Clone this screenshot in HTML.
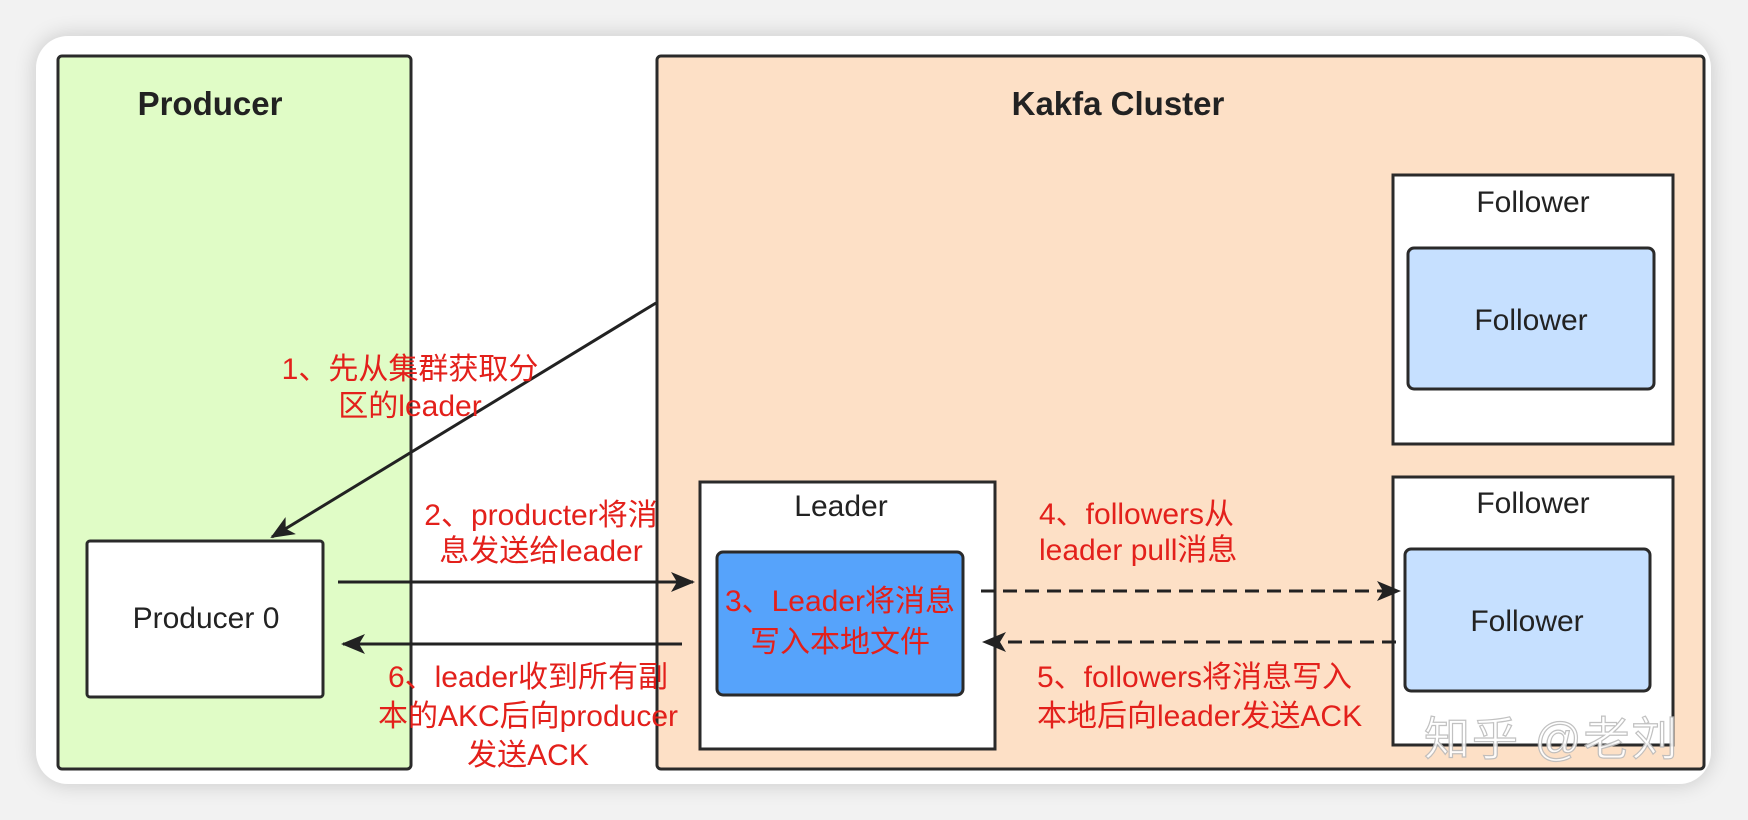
<!DOCTYPE html>
<html><head><meta charset="utf-8"><style>
html,body{margin:0;padding:0;width:1748px;height:820px;overflow:hidden;background:#f2f2f2;}
.card{position:absolute;left:36px;top:36px;width:1675px;height:748px;background:#fff;border-radius:32px;box-shadow:0 0 22px rgba(0,0,0,0.18);}
svg{position:absolute;left:0;top:0;}
text{font-family:"Liberation Sans","Noto Sans CJK SC",sans-serif;}
.r{fill:#e3201b;font-size:30px;}
.b{fill:#222;font-size:30px;}
</style></head><body>
<div class="card"></div>
<svg width="1748" height="820" viewBox="0 0 1748 820">
<defs>
<marker id="ah2" markerWidth="24" markerHeight="20" refX="22" refY="10" orient="auto" markerUnits="userSpaceOnUse">
<path d="M0,0 L24,10 L0,20 L6,10 Z" fill="#222"/></marker>
</defs>
<rect x="58" y="56" width="353" height="713" rx="4" fill="#e0fcc6" stroke="#2a2a2a" stroke-width="3"/>
<text x="210" y="115" text-anchor="middle" font-weight="bold" font-size="33" fill="#222">Producer</text>
<rect x="657" y="56" width="1047" height="713" rx="4" fill="#fde0c6" stroke="#2a2a2a" stroke-width="3"/>
<text x="1118" y="115" text-anchor="middle" font-weight="bold" font-size="33" fill="#222">Kakfa Cluster</text>

<rect x="1393" y="175" width="280" height="269" fill="#fff" stroke="#2a2a2a" stroke-width="3"/>
<text x="1533" y="212" text-anchor="middle" class="b">Follower</text>
<rect x="1408" y="248" width="246" height="141" rx="6" fill="#c6e0ff" stroke="#2a2a2a" stroke-width="3"/>
<text x="1531" y="330" text-anchor="middle" class="b">Follower</text>

<rect x="1393" y="477" width="280" height="268" fill="#fff" stroke="#2a2a2a" stroke-width="3"/>
<text x="1533" y="513" text-anchor="middle" class="b">Follower</text>
<rect x="1405" y="549" width="245" height="142" rx="6" fill="#c6e0ff" stroke="#2a2a2a" stroke-width="3"/>
<text x="1527" y="631" text-anchor="middle" class="b">Follower</text>

<rect x="700" y="482" width="295" height="267" fill="#fff" stroke="#2a2a2a" stroke-width="3"/>
<text x="841" y="516" text-anchor="middle" class="b">Leader</text>
<rect x="717" y="552" width="246" height="143" rx="6" fill="#56a3fb" stroke="#2a2a2a" stroke-width="3"/>
<text x="840" y="611" text-anchor="middle" class="r">3、Leader将消息</text>
<text x="840" y="652" text-anchor="middle" class="r">写入本地文件</text>

<rect x="87" y="541" width="236" height="156" rx="3" fill="#fff" stroke="#2a2a2a" stroke-width="3"/>
<text x="206" y="628" text-anchor="middle" class="b">Producer 0</text>

<line x1="656" y1="303" x2="272" y2="537" stroke="#222" stroke-width="3" marker-end="url(#ah2)"/>
<text x="410" y="379" text-anchor="middle" class="r">1、先从集群获取分</text>
<text x="410" y="416" text-anchor="middle" class="r">区的leader</text>

<line x1="338" y1="582" x2="693" y2="582" stroke="#222" stroke-width="3" marker-end="url(#ah2)"/>
<text x="541" y="525" text-anchor="middle" class="r">2、producter将消</text>
<text x="541" y="561" text-anchor="middle" class="r">息发送给leader</text>

<line x1="682" y1="644" x2="343" y2="644" stroke="#222" stroke-width="3" marker-end="url(#ah2)"/>
<text x="528" y="687" text-anchor="middle" class="r">6、leader收到所有副</text>
<text x="528" y="726" text-anchor="middle" class="r">本的AKC后向producer</text>
<text x="528" y="765" text-anchor="middle" class="r">发送ACK</text>

<line x1="981" y1="591" x2="1399" y2="591" stroke="#222" stroke-width="3" stroke-dasharray="14,8" marker-end="url(#ah2)"/>
<text x="1039" y="524" class="r">4、followers从</text>
<text x="1039" y="560" class="r">leader pull消息</text>

<line x1="1396" y1="642" x2="984" y2="642" stroke="#222" stroke-width="3" stroke-dasharray="14,8" marker-end="url(#ah2)"/>
<text x="1037" y="687" class="r">5、followers将消息写入</text>
<text x="1037" y="726" class="r">本地后向leader发送ACK</text>

<text x="1424" y="755" font-size="46" letter-spacing="2" fill="#fff" stroke="#bbb" stroke-width="1.2" opacity="0.9">知乎 @老刘</text>
</svg>
</body></html>
